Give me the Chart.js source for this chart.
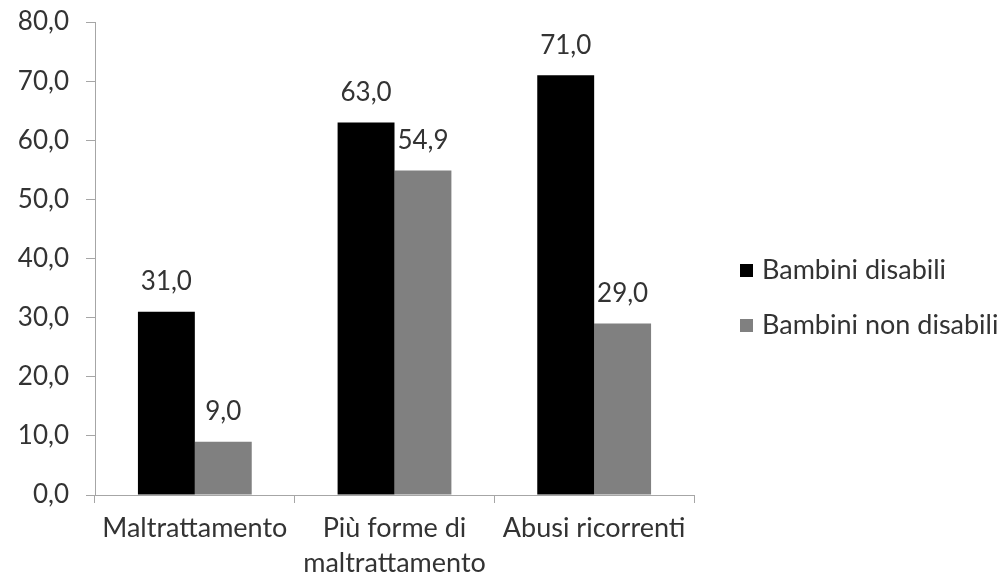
<!DOCTYPE html>
<html>
<head>
<meta charset="utf-8">
<script src="https://cdn.jsdelivr.net/npm/chart.js@4/dist/chart.umd.min.js"></script>
<style>
  html, body { margin: 0; padding: 0; background: #fff; }
  #wrap { width: 997px; height: 578px; position: relative; }
</style>
</head>
<body>
<div id="wrap"><canvas id="c" width="997" height="578"></canvas></div>
<script>
const categories = ["Maltrattamento", ["Più forme di", "maltrattamento"], "Abusi ricorrenti"];
const seriesNames = ["Bambini disabili", "Bambini non disabili"];
const disabili = [31.0, 63.0, 71.0];
const nonDisabili = [9.0, 54.9, 29.0];
const seriesColors = ["#000000", "#808080"];
const yTicks = [0, 10, 20, 30, 40, 50, 60, 70, 80];

const FONT = "Lato, 'Open Sans', sans-serif";
const TEXT = "#333333";
const AXIS = "#a6a6a6";

const fmt = v => v.toFixed(1).replace(".", ",");

// value labels above each bar
const valueLabels = {
  id: "valueLabels",
  afterDatasetsDraw(chart) {
    const ctx = chart.ctx;
    ctx.save();
    ctx.font = "26px " + FONT;
    ctx.fillStyle = TEXT;
    ctx.textAlign = "center";
    ctx.textBaseline = "middle";
    chart.data.datasets.forEach((ds, i) => {
      chart.getDatasetMeta(i).data.forEach((bar, j) => {
        ctx.fillText(fmt(ds.data[j]), bar.x, bar.y - 30);
      });
    });
    ctx.restore();
  }
};

// legend to the right of the plot
const sideLegend = {
  id: "sideLegend",
  afterDraw(chart) {
    const ctx = chart.ctx;
    ctx.save();
    ctx.font = "27px " + FONT;
    ctx.textBaseline = "middle";
    ctx.textAlign = "left";
    const x0 = 740, y0 = 270, step = 55;
    chart.data.datasets.forEach((ds, i) => {
      const y = y0 + i * step;
      ctx.fillStyle = ds.backgroundColor;
      ctx.fillRect(x0, y - 6, 13, 13);
      ctx.fillStyle = TEXT;
      ctx.fillText(ds.label, x0 + 22, y);
    });
    ctx.restore();
  }
};

new Chart(document.getElementById("c"), {
  type: "bar",
  data: {
    labels: categories,
    datasets: [
      { label: seriesNames[0], data: disabili, backgroundColor: seriesColors[0] },
      { label: seriesNames[1], data: nonDisabili, backgroundColor: seriesColors[1] }
    ]
  },
  options: {
    responsive: false,
    animation: false,
    devicePixelRatio: 1,
    layout: { padding: { top: 22, right: 303, bottom: 0, left: 0 } },
    datasets: { bar: { categoryPercentage: 0.57, barPercentage: 1.0 } },
    plugins: { legend: { display: false }, tooltip: { enabled: false } },
    scales: {
      x: {
        grid: { drawOnChartArea: false, drawTicks: true, tickLength: 8, color: AXIS, offset: true },
        border: { color: AXIS, width: 1 },
        ticks: { color: TEXT, font: { family: FONT, size: 27, lineHeight: 1.3 }, padding: 8, maxRotation: 0, autoSkip: false },
        afterFit(scale) { scale.height = 83; scale.paddingLeft = 0; scale.paddingRight = 0; }
      },
      y: {
        min: 0, max: 80,
        afterBuildTicks(scale) { scale.ticks = yTicks.map(v => ({ value: v })); },
        grid: { drawOnChartArea: false, drawTicks: true, tickLength: 9, color: AXIS },
        border: { color: AXIS, width: 1 },
        ticks: { color: TEXT, font: { family: FONT, size: 26 }, padding: 17, callback: v => fmt(v) },
        afterFit(scale) { scale.width = 95; scale.paddingTop = 0; scale.paddingBottom = 0; }
      }
    }
  },
  plugins: [valueLabels, sideLegend]
});
</script>
</body>
</html>
